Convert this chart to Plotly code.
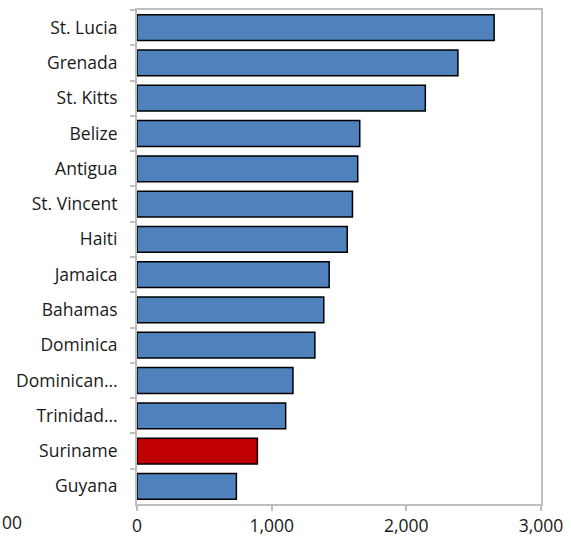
import plotly.graph_objects as go

countries = ["St. Lucia", "Grenada", "St. Kitts", "Belize", "Antigua", "St. Vincent", "Haiti",
             "Jamaica", "Bahamas", "Dominica", "Dominican…", "Trinidad…", "Suriname", "Guyana"]
values = [2652, 2383, 2141, 1654, 1639, 1600, 1561, 1427, 1387, 1321, 1158, 1104, 894, 738]
highlight = "Suriname"
x_ticks = [0, 1000, 2000, 3000]
x_tick_labels = ["0", "1,000", "2,000", "3,000"]

colors = ["#C00000" if c == highlight else "#4F81BD" for c in countries]

fig = go.Figure(go.Bar(
    y=countries, x=values, orientation="h",
    marker=dict(color=colors, line=dict(color="#000000", width=1.5)),
))

font = dict(family="Open Sans, Noto Sans, sans-serif", size=17.5, color="#1a1a1a")
fig.update_layout(
    width=571, height=546,
    margin=dict(l=137, r=29, t=8, b=42),
    plot_bgcolor="white", paper_bgcolor="white",
    bargap=0.27, showlegend=False, font=font,
    xaxis=dict(range=[0, 3000], tickvals=x_ticks, ticktext=x_tick_labels,
               showgrid=False, zeroline=False, showline=True, linecolor="#BFBFBF", linewidth=2,
               mirror=True, ticks="outside", ticklen=5, tickcolor="#BFBFBF", tickwidth=2,
               fixedrange=True),
    yaxis=dict(categoryorder="array", categoryarray=countries, autorange="reversed",
               showgrid=False, showline=True, linecolor="#BFBFBF", linewidth=2, mirror=True,
               ticks="outside", ticklen=5, tickcolor="#BFBFBF", tickwidth=2,
               tickson="boundaries", ticklabelstandoff=14),
)
fig.add_annotation(text="00", xref="paper", yref="paper", x=-137/405, y=-18/496,
                   xanchor="left", yanchor="middle", showarrow=False, font=font)
fig.write_html("out.html")
